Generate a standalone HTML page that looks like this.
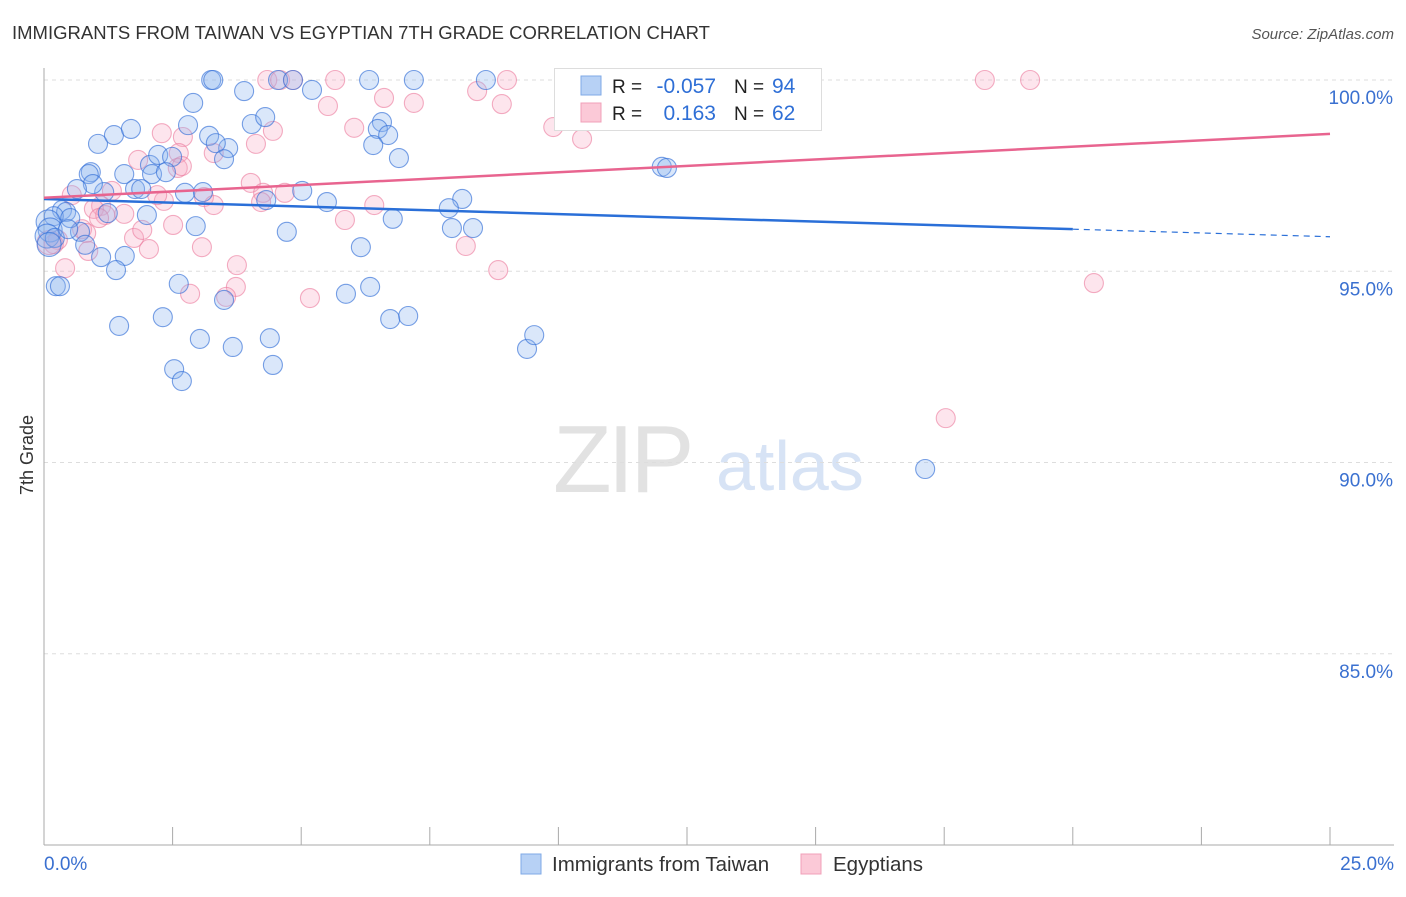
<!DOCTYPE html>
<html><head><meta charset="utf-8"><style>
body{margin:0;background:#fff;font-family:"Liberation Sans",sans-serif;}
svg text{font-family:"Liberation Sans",sans-serif;}
</style></head><body>
<svg id="chart" width="1406" height="892">
<text x="12" y="39" font-size="18.5" fill="#333">IMMIGRANTS FROM TAIWAN VS EGYPTIAN 7TH GRADE CORRELATION CHART</text>
<text x="1394" y="39" font-size="15" fill="#555" text-anchor="end" font-style="italic">Source: ZipAtlas.com</text>
<text transform="translate(33,455) rotate(-90)" font-size="18" fill="#333" text-anchor="middle">7th Grade</text>
<g>
<text x="553" y="492" font-size="96" fill="#e2e2e2" font-family="Liberation Serif" letter-spacing="-4">ZIP</text>
<text x="716" y="490" font-size="70" fill="#d7e3f5">atlas</text>
</g>
<g id="grid"></g><g id="axes"></g><g id="marks"></g><g id="trends"></g>
<g>
<rect x="554.5" y="68.5" width="267" height="62" fill="#fff" stroke="#ddd"/>
<rect x="581" y="76" width="20" height="19" fill="#b7d1f5" stroke="#7fa9e6"/>
<rect x="581" y="103" width="20" height="19" fill="#fbc9d7" stroke="#f0a0b8"/>
<text x="612" y="93" font-size="19" fill="#222">R = </text><text x="716" y="93" font-size="21" fill="#2f6fd6" text-anchor="end">-0.057</text>
<text x="734" y="93" font-size="19" fill="#222">N = </text><text x="772" y="93" font-size="21" fill="#2f6fd6">94</text>
<text x="612" y="120" font-size="19" fill="#222">R = </text><text x="716" y="120" font-size="21" fill="#2f6fd6" text-anchor="end">0.163</text>
<text x="734" y="120" font-size="19" fill="#222">N = </text><text x="772" y="120" font-size="21" fill="#2f6fd6">62</text>
</g>
<g>
<rect x="521" y="854" width="20" height="20" fill="#b7d1f5" stroke="#7fa9e6"/>
<text x="552" y="871" font-size="20.5" fill="#333">Immigrants from Taiwan</text>
<rect x="801" y="854" width="20" height="20" fill="#fbc9d7" stroke="#f0a0b8"/>
<text x="833" y="871" font-size="20.5" fill="#333">Egyptians</text>
</g>
</svg>
<script>
const yTicks=[100,95,90,85];
const yTickLabels=["100.0%","95.0%","90.0%","85.0%"];
const xTicks=[0,2.5,5,7.5,10,12.5,15,17.5,20,22.5,25];
const xEndLabels=["0.0%","25.0%"];
const blueX=[3.25,3.29,4.55,4.84,6.32,7.19,8.59,11.78,3.89,5.21,2.90,1.05,1.36,1.69,2.80,4.04,4.30,3.21,3.58,3.34,3.50,6.57,6.49,6.69,6.40,6.90,12.01,12.11,2.06,2.22,2.49,0.91,0.87,1.56,2.10,2.37,1.77,1.89,2.74,3.09,5.02,4.32,5.50,1.17,0.95,0.64,0.35,0.43,1.24,2.00,2.95,4.72,6.78,7.93,8.13,8.34,7.87,0.19,0.08,0.12,0.70,0.80,1.11,1.57,1.40,6.16,0.23,0.31,2.62,3.50,5.87,6.34,6.73,7.08,1.46,2.31,3.03,3.67,4.39,9.39,9.53,2.53,2.68,4.45,17.13,0.06,0.21,0.51,0.47,0.1];
const blueY=[100,100,100,100,100,100,100,100,99.71,99.74,99.40,98.33,98.56,98.72,98.82,98.85,99.03,98.54,98.22,98.35,97.93,98.90,98.72,98.56,98.30,97.96,97.73,97.70,97.78,98.04,97.99,97.59,97.54,97.54,97.54,97.59,97.15,97.15,97.05,97.07,97.10,96.86,96.81,97.07,97.28,97.15,96.60,96.55,96.52,96.47,96.18,96.03,96.37,96.13,96.89,96.13,96.65,96.44,96.29,96.08,96.03,95.69,95.37,95.40,95.03,95.63,94.61,94.61,94.67,94.25,94.41,94.59,93.75,93.83,93.57,93.80,93.23,93.02,93.25,92.97,93.33,92.44,92.13,92.55,89.83,95.92,95.87,96.39,96.10,95.7];
const pinkX=[4.34,4.59,4.84,5.66,9.00,18.29,19.17,6.61,5.52,7.19,8.42,8.90,9.90,10.46,4.45,6.03,4.12,3.30,2.29,2.70,1.83,2.62,2.60,2.68,4.02,4.26,4.68,3.11,3.30,1.11,0.97,1.19,1.56,0.74,0.82,2.51,4.22,5.85,6.42,0.86,2.04,3.07,1.07,1.75,1.91,2.33,2.20,0.27,0.19,0.41,3.75,3.73,2.84,3.54,5.17,8.20,8.83,20.41,17.53,1.32,0.54,0.1];
const pinkY=[100,100,100,100,100,100,100,99.53,99.32,99.40,99.71,99.37,98.77,98.46,98.67,98.75,98.33,98.09,98.61,98.51,97.91,98.09,97.70,97.75,97.31,97.05,97.05,96.94,96.73,96.71,96.63,96.47,96.50,96.10,96.00,96.21,96.81,96.34,96.73,95.53,95.58,95.63,96.39,95.87,96.08,96.84,96.99,95.82,95.71,95.08,95.16,94.59,94.41,94.33,94.30,95.66,95.03,94.69,91.16,97.10,96.99,95.75];
const blueTrend=[96.89,96.10];
const pinkTrend=[96.92,98.59];
const NS="http://www.w3.org/2000/svg";
const sx=v=>44+v*51.44, sy=v=>80+(100-v)*38.25;
function mk(tag,attrs,parent){const e=document.createElementNS(NS,tag);for(const k in attrs)e.setAttribute(k,attrs[k]);parent.appendChild(e);return e;}
const grid=document.getElementById('grid'),axes=document.getElementById('axes'),marks=document.getElementById('marks'),trends=document.getElementById('trends');
yTicks.forEach((t,i)=>{
  const l=mk('line',{x1:44,x2:1394,y1:sy(t),y2:sy(t),stroke:'#ddd','stroke-dasharray':'4,4'},grid);
  
  
  const tx=mk('text',{x:1393,y:sy(t)+24,'font-size':19,fill:'#3a70d0','text-anchor':'end'},axes);
  tx.textContent=yTickLabels[i];
  
  
});
const ya=mk('line',{x1:44,x2:44,y1:68,y2:845,stroke:'#aaa'},axes);


const xa=mk('line',{x1:44,x2:1394,y1:845,y2:845,stroke:'#aaa'},axes);


xTicks.forEach(t=>{
  const l=mk('line',{x1:sx(t),x2:sx(t),y1:827,y2:845,stroke:'#aaa'},axes);
  
  
});
[[0,'start',44],[25,'end',1394]].forEach((d,i)=>{
  const tx=mk('text',{x:d[2],y:870,'font-size':19,fill:'#3a70d0','text-anchor':d[1]},axes);
  tx.textContent=xEndLabels[i];
  
  
});
function pts(X,Y,fill,stroke,name){
  X.forEach((x,i)=>{
    const r=(x<0.15)?12:9.5;
    const c=mk('circle',{cx:sx(x),cy:sy(Y[i]),r:r,fill:fill,stroke:stroke,'stroke-width':1.1},marks);
    
    
  });
}
pts(pinkX,pinkY,'rgba(248,170,195,0.3)','rgba(235,120,155,0.6)','point-egyptians');
pts(blueX,blueY,'rgba(140,180,240,0.32)','rgba(50,110,215,0.65)','point-taiwan');
const bl=mk('line',{x1:sx(0),y1:sy(blueTrend[0]),x2:sx(20),y2:sy(blueTrend[1]),stroke:'#2a6fd8','stroke-width':2.5},trends);


const slope=(blueTrend[1]-blueTrend[0])/20;
const bd=mk('line',{x1:sx(20),y1:sy(blueTrend[1]),x2:sx(25),y2:sy(blueTrend[1]+slope*5),stroke:'#2a6fd8','stroke-width':1.2,'stroke-dasharray':'6,5'},trends);


const pl=mk('line',{x1:sx(0),y1:sy(pinkTrend[0]),x2:sx(25),y2:sy(pinkTrend[1]),stroke:'#e8648f','stroke-width':2.5},trends);


</script>
</body></html>
